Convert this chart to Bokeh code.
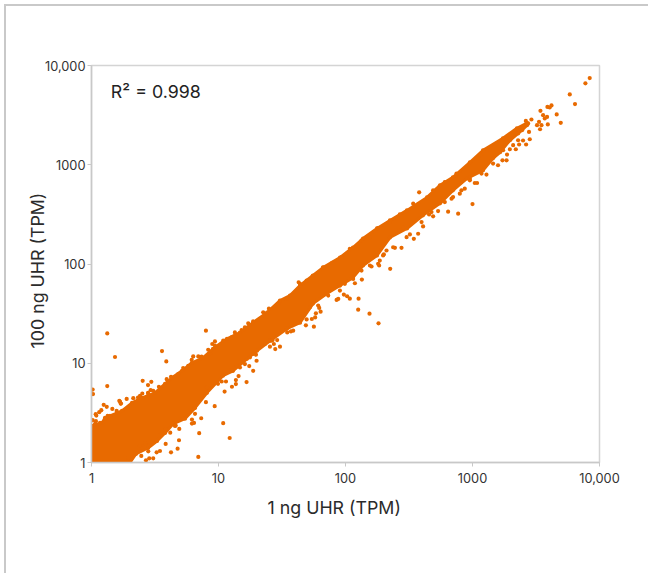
import numpy as np
from bokeh.plotting import figure
from bokeh.models import FixedTicker, Range1d, Label, Title
from bokeh.embed import file_html
from bokeh.resources import INLINE

# All values below are log10(TPM).
tick_values = [1, 10, 100, 1000, 10000]
tick_labels = ["1", "10", "100", "1000", "10,000"]
x_title = "1 ng UHR (TPM)"
y_title = "100 ng UHR (TPM)"
r2_text = "R² = 0.998"

# Dense band of genes: upper edge, then lower edge
band_upper_x = [-0.012,-0.004,0.083,0.106,0.146,0.240,0.319,0.398,0.500,0.579,0.634,0.713,0.791,0.878,0.957,1.067,1.169,1.272,1.382,1.484,1.563,1.642,1.744,1.823,1.957,2.059,2.138,2.248,2.350,2.484,2.642,2.744,2.846,2.980,3.083,3.240,3.350,3.429]
band_upper_y = [0.197,0.369,0.399,0.449,0.470,0.520,0.601,0.651,0.702,0.793,0.853,0.924,1.005,1.055,1.146,1.247,1.308,1.409,1.510,1.631,1.682,1.783,1.884,1.964,2.065,2.166,2.257,2.358,2.439,2.540,2.671,2.793,2.873,3.025,3.146,3.267,3.368,3.419]
band_lower_x = [3.429,3.390,3.295,3.217,3.161,3.083,2.957,2.846,2.744,2.610,2.484,2.350,2.248,2.138,2.059,1.957,1.854,1.744,1.642,1.539,1.406,1.303,1.224,1.114,1.035,0.909,0.815,0.736,0.642,0.579,0.516,0.445,0.350,0.303,0.004]
band_lower_y = [3.399,3.348,3.247,3.126,3.065,2.944,2.863,2.742,2.611,2.490,2.358,2.267,2.086,1.985,1.863,1.783,1.702,1.601,1.409,1.348,1.227,1.126,1.045,0.924,0.874,0.702,0.550,0.441,0.389,0.298,0.217,0.146,0.086,0.000,0.000]

# Individually visible genes
loose_x = [.124,.185,.555,.589,.901,.124,.009,.012,.403,.445,.471,.277,.219,.230,.096,.120,.077,.061,.033,.038,.009,.035,.164,.198,.366,.329,.400,.445,.466,
 .841,1.088,1.037,.970,.864,.848,.791,.791,.807,.689,.678,.626,.584,.539,.513,.486,.455,.429,.392,.447,.691,.663,.722,.901,1.221,1.137,1.137,1.106,1.048,1.158,1.273,
 1.059,1.025,1.169,1.242,1.300,1.295,1.484,1.447,1.436,1.405,1.462,1.426,1.570,1.541,1.628,
 .801,.789,.841,.867,.919,.951,.972,1.129,1.182,1.234,1.352,1.397,
 2.352,2.260,2.189,2.100,2.103,2.034,2.013,1.987,2.074,2.129,1.943,1.930,1.804,1.793,1.767,1.761,1.735,1.751,1.688,1.694,1.741,1.895,2.265,2.270,2.205,2.302,2.323,2.441,2.389,1.631,
 2.580,3.000,2.887,2.808,2.729,2.690,2.658,2.611,2.599,2.572,2.538,2.507,2.481,2.454,3.018,3.036,2.979,2.939,2.900,2.847,2.782,3.071,3.110,3.162,3.201,
 3.923,3.889,3.766,3.807,3.663,3.695,3.593,3.622,3.608,3.590,3.535,3.556,3.587,3.569,3.464,3.420,3.438,3.524,3.543,3.508,3.532,3.445,3.451,3.398,3.422,3.367,3.359,3.341,3.294,3.268,3.236,3.241,3.398,3.359,3.320,3.272]
loose_y = [1.301,1.063,1.123,1.018,1.328,.770,.735,.689,.823,.780,.813,.641,.621,.594,.581,.561,.527,.507,.487,.473,.426,.416,.540,.520,.654,.648,.695,.702,.729,
 .056,.247,.396,.568,.446,.295,.432,.392,.399,.224,.139,.103,.187,.116,.103,.042,.042,.022,.066,.113,.338,.372,.446,.608,.810,.790,.830,.763,.715,.871,.924,
 .816,.816,.957,.972,1.025,1.086,1.167,1.143,1.194,1.167,1.234,1.234,1.321,1.311,1.412,
 1.069,1.035,1.069,1.066,1.136,1.194,1.220,1.311,1.335,1.402,1.513,1.550,
 1.951,1.402,1.500,1.540,1.651,1.651,1.675,1.692,1.806,1.843,1.648,1.638,1.520,1.557,1.503,1.462,1.446,1.369,1.382,1.442,1.877,2.012,1.985,2.035,1.975,2.096,2.136,2.163,2.163,1.816,
 2.722,2.604,2.507,2.527,2.533,2.480,2.500,2.379,2.422,2.305,2.254,2.298,2.270,2.365,2.816,2.816,2.843,2.759,2.709,2.674,2.624,2.911,2.901,3.012,2.995,
 3.873,3.820,3.709,3.611,3.507,3.422,3.406,3.598,3.577,3.583,3.543,3.500,3.482,3.466,3.456,3.442,3.416,3.432,3.399,3.399,3.358,3.331,3.257,3.244,3.204,3.204,3.247,3.156,3.156,3.045,3.045,3.146,3.381,3.315,3.197,3.103]

# Genes that form the ragged rim of the band
rim_x = [.028,.067,.106,.127,.224,.232,.382,.447,.486,.531,.592,.626,.683,.722,.762,
 .290,.382,.421,.447,.531,.584,.620,.657,.815,
 .907,.996,1.103,1.143,1.208,1.247,1.273,1.365,1.418,1.588,
 .933,.972,1.037,1.103,1.208,1.273,1.470,1.536,
 1.641,1.694,1.824,1.969,2.034,2.126,2.192,2.257,2.349,
 1.720,1.785,1.864,1.956,1.995,2.060,2.126,2.192,2.257,2.296,2.375,
 2.428,2.533,2.690,2.782,2.874,3.057,3.136,
 2.428,2.677,2.769,2.835,2.913,2.979]
rim_y = [.389,.399,.439,.470,.614,.594,.672,.689,.722,.763,.840,.864,.891,.951,.975,
 .048,.167,.190,.167,.268,.335,.301,.369,.490,
 .755,.793,.931,.975,.992,1.058,1.093,1.194,1.227,1.328,
 1.093,1.177,1.227,1.260,1.361,1.422,1.598,1.648,
 1.800,1.833,1.967,2.068,2.153,2.237,2.270,2.361,2.416,
 1.563,1.581,1.682,1.732,1.800,1.850,1.934,1.985,2.002,2.086,2.169,
 2.500,2.608,2.742,2.826,2.911,3.096,3.153,
 2.338,2.523,2.641,2.658,2.742,2.860]

ORANGE = "#E86A00"
FONT = "Inter"
INK = "#2b2b2b"

p = figure(width=644, height=569, x_axis_type="log", y_axis_type="log",
           x_range=Range1d(tick_values[0], tick_values[-1]), y_range=Range1d(tick_values[0], tick_values[-1]),
           output_backend="svg", toolbar_location=None,
           min_border_left=85, min_border_right=51, min_border_top=59, min_border_bottom=113)
p.styles = {"position": "absolute", "left": "4px", "top": "4px",
            "border-left": "2px solid #c9c9c9", "border-top": "2px solid #c9c9c9"}
p.grid.visible = False
p.outline_line_color = "#d4d4d4"
p.outline_line_width = 1.5

for ax in (p.xaxis[0], p.yaxis[0]):
    ax.ticker = FixedTicker(ticks=tick_values, minor_ticks=[])
    ax.major_label_overrides = dict(zip(tick_values, tick_labels))
    ax.major_label_text_font = FONT
    ax.major_label_text_font_size = "12.8px"
    ax.major_label_text_color = "#333333"
    ax.axis_line_color = "#c8c8c8"
    ax.axis_line_width = 1.5
    ax.major_tick_line_color = "#c8c8c8"
    ax.major_tick_out = 4
    ax.major_tick_in = 0
    ax.minor_tick_line_color = None
p.yaxis[0].major_label_orientation = "horizontal"
p.xaxis[0].major_label_standoff = 6
p.yaxis[0].major_label_standoff = 2

bx = 10 ** np.array(band_upper_x + band_lower_x)
by = 10 ** np.array(band_upper_y + band_lower_y)
p.patch(bx, by, fill_color=ORANGE, line_color=ORANGE, line_width=3, line_join="round")
p.scatter(bx, by, size=4.2, fill_color=ORANGE, line_color=None)
p.scatter(10 ** np.array(rim_x), 10 ** np.array(rim_y), size=4.2, fill_color=ORANGE, line_color=None)
p.scatter(10 ** np.array(loose_x), 10 ** np.array(loose_y), size=4.2, fill_color=ORANGE, line_color=None)

p.add_layout(Label(x=1.42, y=5500, text=r2_text, text_font=FONT, text_font_size="17.8px",
                   text_color="#222222", text_baseline="alphabetic"))
p.add_layout(Title(text=x_title, align="left", offset=176, standoff=18, text_font=FONT,
                   text_font_size="17.8px", text_font_style="normal", text_color=INK), "below")
p.add_layout(Title(text=y_title, align="left", offset=114, standoff=-12, text_font=FONT,
                   text_font_size="17.8px", text_font_style="normal", text_color=INK), "left")

open("out.html", "w").write(file_html(p, INLINE))
